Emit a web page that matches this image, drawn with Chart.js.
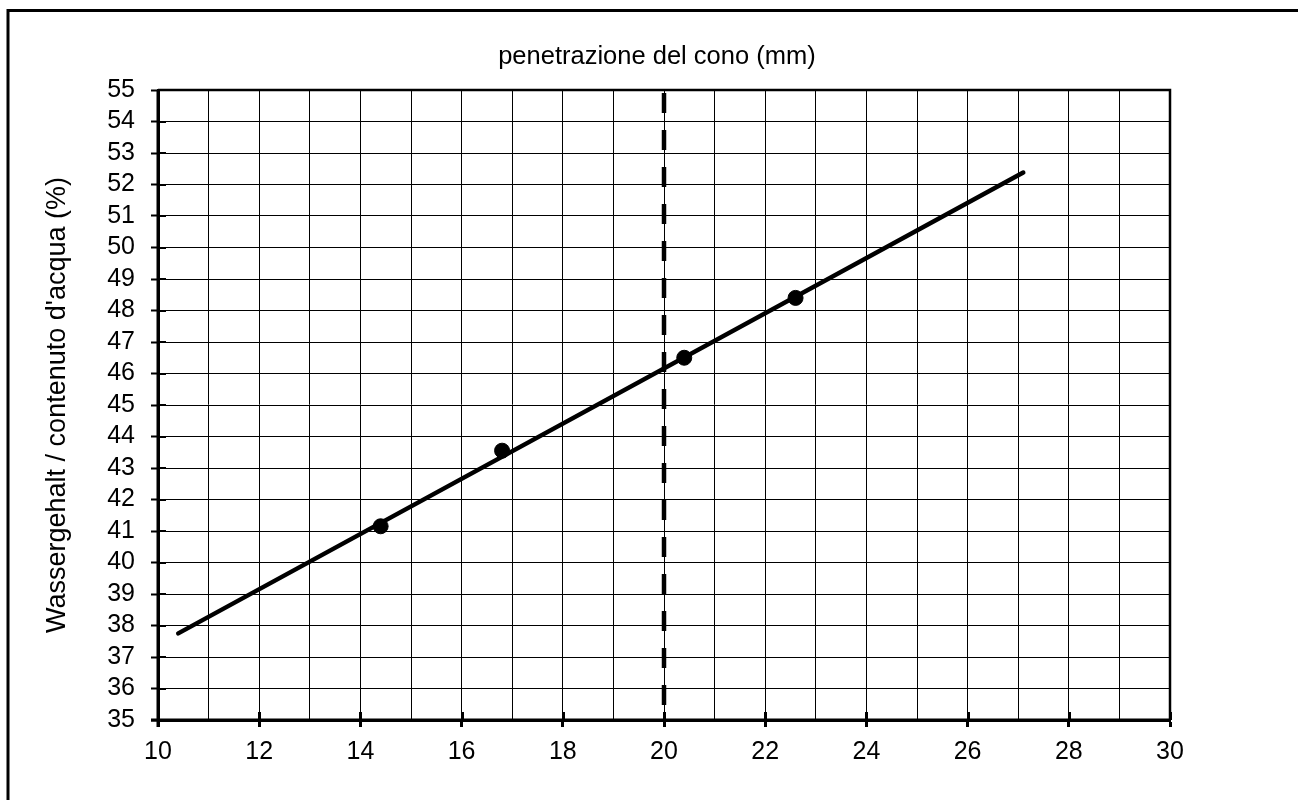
<!DOCTYPE html>
<html>
<head>
<meta charset="utf-8">
<script src="https://cdn.jsdelivr.net/npm/chart.js@4"></script>
<style>
  html, body { margin: 0; padding: 0; background: #fff; }
  #wrap { position: relative; width: 1298px; height: 800px; overflow: hidden; }
  canvas { position: absolute; left: 0; top: 0; }
</style>
</head>
<body>
<div id="wrap"><canvas id="c" width="1298" height="800"></canvas></div>
<script>
// ---- data ----
const penetration = [14.4, 16.8, 20.4, 22.6];        // mm
const waterContent = [41.15, 43.55, 46.5, 48.4];     // %
const fitX = [10.4, 27.1];
const fitY = [37.75, 52.38];
const refX = [20, 20];
const refY = [55, 35];
const xMin = 10, xMax = 30, yMin = 35, yMax = 55;
const xTitle = 'penetrazione del cono (mm)';
const yTitle = "Wassergehalt / contenuto d'acqua (%)";

const FONT = 'Liberation Sans, Arial, Helvetica, sans-serif';
const zip = (xs, ys) => xs.map((x, i) => ({ x: x, y: ys[i] }));

const framePlugin = {
  id: 'frame',
  beforeDraw(chart) {
    const ctx = chart.ctx;
    ctx.save();
    ctx.fillStyle = '#fff';
    ctx.fillRect(0, 0, chart.width, chart.height);
    ctx.strokeStyle = '#000';
    ctx.lineWidth = 3;
    ctx.beginPath();
    ctx.moveTo(8, 1300); ctx.lineTo(8, 10.5); ctx.lineTo(1400, 10.5);
    ctx.stroke();
    ctx.restore();
  },
  afterDatasetsDraw(chart) {
    const ctx = chart.ctx;
    const a = chart.chartArea;
    const xs = chart.scales.x, ys = chart.scales.y;
    ctx.save();
    ctx.strokeStyle = '#000';
    ctx.lineWidth = 2;
    for (let v = yMin; v <= yMax; v++) {
      const py = Math.round(ys.getPixelForValue(v));
      ctx.beginPath(); ctx.moveTo(a.left, py); ctx.lineTo(a.left + 8, py); ctx.stroke();
    }
    ctx.lineWidth = 3;
    for (let v = xMin; v <= xMax; v += 2) {
      const px = Math.round(xs.getPixelForValue(v)) + 0.5;
      ctx.beginPath(); ctx.moveTo(px, a.bottom); ctx.lineTo(px, a.bottom - 8); ctx.stroke();
    }
    ctx.restore();
  },
  afterDraw(chart) {
    const ctx = chart.ctx;
    const a = chart.chartArea;
    ctx.save();
    ctx.strokeStyle = '#000';
    ctx.lineWidth = 2.5;
    ctx.beginPath();
    ctx.moveTo(a.left, a.top); ctx.lineTo(a.right, a.top); ctx.lineTo(a.right, a.bottom);
    ctx.stroke();
    ctx.lineWidth = 3;
    ctx.beginPath();
    ctx.moveTo(a.left - 7, a.bottom); ctx.lineTo(a.right, a.bottom);
    ctx.moveTo(a.left, a.top); ctx.lineTo(a.left, a.bottom + 7);
    ctx.stroke();
    ctx.restore();
  }
};

new Chart(document.getElementById('c'), {
  type: 'scatter',
  data: {
    datasets: [
      {
        label: 'fit',
        data: zip(fitX, fitY),
        showLine: true,
        borderColor: '#000',
        borderWidth: 4.5,
        borderCapStyle: 'round',
        pointRadius: 0,
        order: 2
      },
      {
        label: 'ref',
        data: zip(refX, refY),
        showLine: true,
        borderColor: '#000',
        borderWidth: 4.5,
        borderDash: [20, 17],
        borderDashOffset: -3,
        pointRadius: 0,
        order: 3
      },
      {
        label: 'points',
        data: zip(penetration, waterContent),
        backgroundColor: '#000',
        borderColor: '#000',
        pointRadius: 7.5,
        pointHoverRadius: 7.5,
        order: 1
      }
    ]
  },
  options: {
    responsive: false,
    animation: false,
    events: [],
    layout: { padding: { left: 0, right: 128, top: 0, bottom: 0 } },
    plugins: { legend: { display: false }, tooltip: { enabled: false }, title: { display: false } },
    scales: {
      x: {
        type: 'linear',
        position: 'bottom',
        min: xMin, max: xMax,
        afterFit(s) { s.height = 80; },
        ticks: {
          stepSize: 1,
          autoSkip: false,
          maxRotation: 0,
          color: '#000',
          padding: 10,
          font: { family: FONT, size: 25 },
          callback: (v) => (v % 2 === 0 ? String(v) : '')
        },
        grid: {
          color: '#000',
          lineWidth: 1,
          tickLength: 7,
          tickWidth: 3,
          tickColor: (c) => (c.tick && c.tick.value % 2 === 0 ? '#000' : 'rgba(0,0,0,0)')
        },
        border: { display: true, color: '#000', width: 3 }
      },
      x2: {
        type: 'linear',
        position: 'top',
        min: xMin, max: xMax,
        afterFit(s) { s.height = 90; },
        ticks: { display: false },
        grid: { display: false, drawTicks: false },
        border: { display: false },
        title: {
          display: true,
          text: xTitle + '  ',
          color: '#000',
          font: { family: FONT, size: 25.5 },
          padding: { top: 42, bottom: 18 }
        }
      },
      y: {
        type: 'linear',
        position: 'left',
        min: yMin, max: yMax,
        afterFit(s) { s.width = 158; },
        ticks: {
          stepSize: 1,
          autoSkip: false,
          color: '#000',
          padding: 16,
          font: { family: FONT, size: 25 }
        },
        grid: {
          color: '#000',
          lineWidth: 1,
          tickLength: 7,
          tickWidth: 2,
          tickColor: '#000'
        },
        border: { display: true, color: '#000', width: 3 },
        title: {
          display: true,
          text: yTitle,
          color: '#000',
          font: { family: FONT, size: 27 },
          padding: { top: 41, bottom: 0 }
        }
      }
    }
  },
  plugins: [framePlugin]
});
</script>
</body>
</html>
